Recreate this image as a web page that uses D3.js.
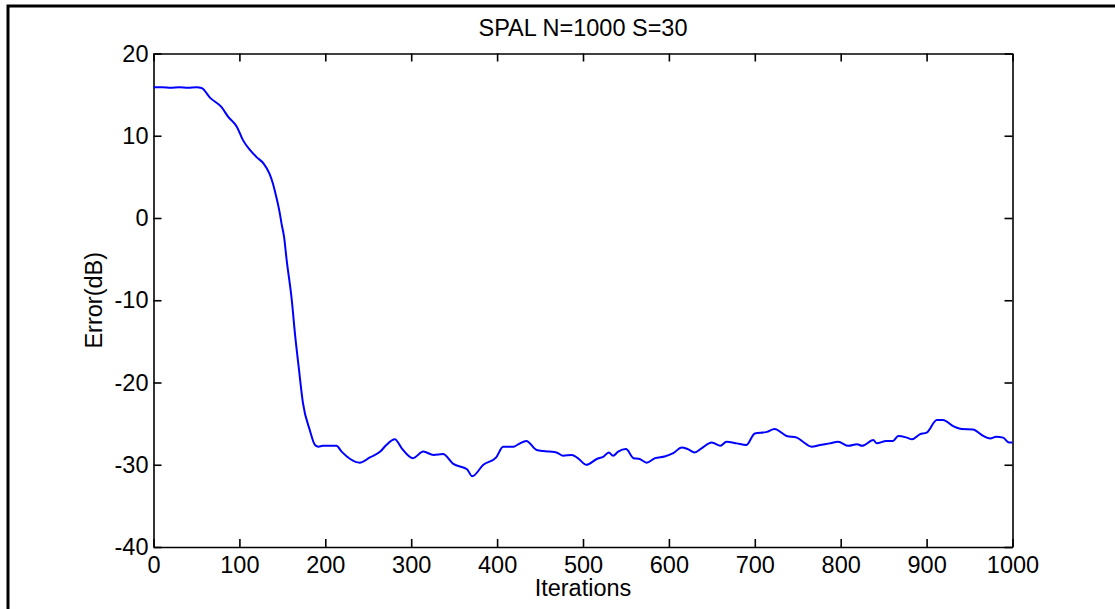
<!DOCTYPE html>
<html>
<head>
<meta charset="utf-8">
<script src="https://cdn.jsdelivr.net/npm/d3@7"></script>
<style>
  body { margin: 0; background: #fff; }
  text { font-family: "Liberation Sans", Arial, sans-serif; }
</style>
</head>
<body>
<script>
// valeurs (itération, erreur en dB)
const iterations = [0, 10, 20, 30, 40, 50, 56, 66, 79, 87, 97, 104, 112, 120, 128, 135, 139, 141, 147, 149, 152, 155, 161, 165, 169, 174, 182, 188, 192, 197, 202, 213, 219, 229, 240, 252, 264, 271, 281, 289, 302, 314, 326, 337, 349, 365, 371, 384, 399, 407, 419, 425, 434, 446, 461, 469, 477, 487, 494, 504, 516, 524, 530, 535, 541, 550, 559, 566, 574, 584, 595, 605, 615, 622, 630, 638, 650, 660, 667, 679, 690, 700, 714, 723, 737, 749, 756, 766, 776, 787, 797, 809, 819, 825, 838, 842, 853, 861, 867, 877, 883, 892, 900, 912, 919, 931, 941, 954, 966, 974, 981, 989, 996, 1000];
const erreurs = [15.9, 15.9, 15.85, 15.9, 15.85, 15.9, 15.8, 14.6, 13.5, 12.3, 11.1, 9.5, 8.3, 7.4, 6.65, 5.4, 4.2, 3.4, 0.6, -0.65, -2.3, -5.1, -10, -14.4, -18.1, -22.5, -25.8, -27.6, -27.8, -27.7, -27.7, -27.7, -28.4, -29.3, -29.75, -29.1, -28.4, -27.6, -26.9, -28, -29.2, -28.4, -28.8, -28.7, -29.9, -30.55, -31.4, -30, -29.1, -27.8, -27.8, -27.5, -27.1, -28.2, -28.4, -28.5, -28.9, -28.8, -29.2, -30, -29.3, -29, -28.5, -28.9, -28.4, -28.1, -29.2, -29.3, -29.75, -29.2, -29, -28.6, -27.9, -28.1, -28.5, -28, -27.3, -27.7, -27.2, -27.4, -27.6, -26.2, -26, -25.65, -26.5, -26.7, -27.2, -27.8, -27.6, -27.4, -27.2, -27.7, -27.5, -27.7, -27, -27.4, -27.1, -27.1, -26.5, -26.7, -26.9, -26.3, -26.1, -24.55, -24.55, -25.3, -25.65, -25.7, -26.5, -26.8, -26.6, -26.7, -27.3, -27.3];
const ticksX = [0, 100, 200, 300, 400, 500, 600, 700, 800, 900, 1000];
const ticksY = [-40, -30, -20, -10, 0, 10, 20];
const titre = "SPAL N=1000 S=30";

const largeur = 1115, hauteur = 609;
const marge = { gauche: 153.5, droite: 1012.5, haut: 53.5, bas: 547 };
const taille = 23.5;

const canevas = d3.select('body')
  .append('svg')
  .attr('width', largeur)
  .attr('height', hauteur);

// cadre de la figure
canevas.append('rect')
  .attr('x', 8).attr('y', 6)
  .attr('width', 1130).attr('height', 630)
  .attr('fill', 'none')
  .attr('stroke', '#000')
  .attr('stroke-width', 3);

const x = d3.scaleLinear().domain([0, 1000]).range([marge.gauche, marge.droite]);
const y = d3.scaleLinear().domain([-40, 20]).range([marge.bas, marge.haut]);

// les quatre axes, graduations vers l'intérieur
const styler = g => {
  g.selectAll('.domain').attr('stroke-width', 1.6);
  g.selectAll('.tick line').attr('stroke-width', 1.6);
  g.selectAll('text').attr('font-size', taille).attr('fill', '#000')
    .attr('font-family', '"Liberation Sans", Arial, sans-serif');
};
const fmt = d => String(d);

canevas.append('g')
  .attr('transform', `translate(0,${marge.bas})`)
  .call(d3.axisBottom(x).tickValues(ticksX).tickSizeInner(-8).tickSizeOuter(0).tickPadding(9).tickFormat(fmt))
  .call(styler);
canevas.append('g')
  .attr('transform', `translate(0,${marge.haut})`)
  .call(d3.axisTop(x).tickValues(ticksX).tickSizeInner(-8).tickSizeOuter(0).tickFormat(''))
  .call(styler);
canevas.append('g')
  .attr('transform', `translate(${marge.gauche},0)`)
  .call(d3.axisLeft(y).tickValues(ticksY).tickSizeInner(-8).tickSizeOuter(0).tickPadding(5).tickFormat(fmt))
  .call(styler);
canevas.append('g')
  .attr('transform', `translate(${marge.droite},0)`)
  .call(d3.axisRight(y).tickValues(ticksY).tickSizeInner(-8).tickSizeOuter(0).tickFormat(''))
  .call(styler);

// la courbe
const donnees = iterations.map((it, i) => ({ it, err: erreurs[i] }));
const ligne = d3.line().curve(d3.curveMonotoneX).x(d => x(d.it)).y(d => y(d.err));
canevas.append('path')
  .datum(donnees)
  .attr('d', ligne)
  .attr('fill', 'none')
  .attr('stroke', '#0000ff')
  .attr('stroke-width', 2)
  .attr('stroke-linejoin', 'round');

// textes
canevas.append('text')
  .attr('x', (marge.gauche + marge.droite) / 2).attr('y', 36)
  .attr('text-anchor', 'middle').attr('font-size', taille)
  .text(titre);
canevas.append('text')
  .attr('x', (marge.gauche + marge.droite) / 2).attr('y', 596)
  .attr('text-anchor', 'middle').attr('font-size', taille)
  .text('Iterations');
canevas.append('text')
  .attr('transform', `translate(102,${(marge.haut + marge.bas) / 2}) rotate(-90)`)
  .attr('text-anchor', 'middle').attr('font-size', taille)
  .text('Error(dB)');
</script>
</body>
</html>
